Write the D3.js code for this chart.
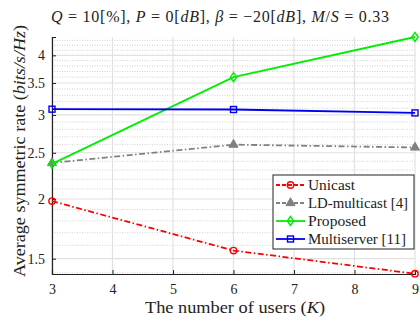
<!DOCTYPE html>
<html>
<head>
<meta charset="utf-8">
<script src="https://cdn.jsdelivr.net/npm/d3@7"></script>
<style>
  body { margin: 0; background: #fff; }
  svg { display: block; font-family: "Liberation Serif", "DejaVu Serif", serif; }
</style>
</head>
<body>
<div class="js-chart"></div>
<script>
// Chart data
const users = [3, 6, 9];
const unicast = [1.98, 1.56, 1.395];
const ldMulticast = [2.38, 2.60, 2.565];
const proposed = [2.37, 3.60, 4.37];
const multiserver = [3.085, 3.08, 3.03];

const xTicks = [3, 4, 5, 6, 7, 8, 9];
const yTicks = [1.5, 2, 2.5, 3, 3.5, 4];
const yMinor = d3.range(14, 44).map(function (v) { return v / 10; });

const seriesNames = ["Unicast", "LD-multicast [4]", "Proposed", "Multiserver [11]"];

(function () {
  "use strict";

  var width = 420, height = 320;
  var margin = { left: 52, right: 5, top: 37, bottom: 46 };
  var x0 = margin.left, x1 = width - margin.right;
  var y0 = height - margin.bottom, y1 = margin.top;

  var svg = d3.select(".js-chart").append("svg")
    .attr("width", width).attr("height", height);

  var x = d3.scaleLinear().domain([3, 9]).range([x0, x1]);
  var y = d3.scaleLog().domain([1.393, 4.37]).range([y0, y1]);

  // minor (dotted) grid
  svg.append("g").selectAll("line")
    .data(yMinor.filter(function (v) { return yTicks.indexOf(v) < 0 && v >= 1.4 && v <= 4.36; }))
    .enter().append("line")
    .attr("x1", x0).attr("x2", x1)
    .attr("y1", function (d) { return y(d); }).attr("y2", function (d) { return y(d); })
    .attr("stroke", "#c4c4c4").attr("stroke-width", 0.8)
    .attr("stroke-dasharray", "1,1.5");

  // major grid
  var grid = svg.append("g").attr("stroke", "#e1e1e1").attr("stroke-width", 1.2);
  grid.selectAll(".gy").data(yTicks).enter().append("line")
    .attr("x1", x0).attr("x2", x1)
    .attr("y1", function (d) { return y(d); }).attr("y2", function (d) { return y(d); });
  grid.selectAll(".gx").data(xTicks).enter().append("line")
    .attr("y1", y0).attr("y2", y1)
    .attr("x1", function (d) { return x(d); }).attr("x2", function (d) { return x(d); });

  // axes, ticks pointing inward
  var xAxis = svg.append("g").attr("transform", "translate(0," + y0 + ")")
    .call(d3.axisBottom(x).tickValues(xTicks).tickSize(-4).tickPadding(10).tickFormat(d3.format("d")));
  var yAxis = svg.append("g").attr("transform", "translate(" + x0 + ",0)")
    .call(d3.axisLeft(y).tickValues(yTicks).tickSize(-4).tickPadding(7).tickFormat(function (d) { return d; }));
  [xAxis, yAxis].forEach(function (a) {
    a.select(".domain").attr("stroke", "#222").attr("stroke-width", 1.2);
    a.selectAll(".tick line").attr("stroke", "#222");
    a.selectAll("text").attr("font-family", "Liberation Serif").attr("font-size", 14).attr("fill", "#222");
  });

  var series = [
    { name: seriesNames[0], values: unicast, color: "#ff0000", dash: "6,2.5,1.5,2.5", marker: "circle", len: 47 },
    { name: seriesNames[1], values: ldMulticast, color: "#808080", dash: "6,2.5,1.5,2.5", marker: "triangle", len: 100 },
    { name: seriesNames[2], values: proposed, color: "#00ee00", dash: null, marker: "diamond", len: 58 },
    { name: seriesNames[3], values: multiserver, color: "#0000ee", dash: null, marker: "square", len: 98 }
  ];

  var line = d3.line()
    .x(function (d) { return x(d[0]); })
    .y(function (d) { return y(d[1]); });

  var drawMarker = function (g, kind, cx, cy, color) {
    if (kind === "circle") {
      g.append("circle").attr("cx", cx).attr("cy", cy).attr("r", 3.2)
        .attr("fill", "none").attr("stroke", color).attr("stroke-width", 1.4);
    } else if (kind === "triangle") {
      g.append("path").attr("d", d3.symbol(d3.symbolTriangle, 36)())
        .attr("transform", "translate(" + cx + "," + cy + ")")
        .attr("fill", color).attr("stroke", color).attr("stroke-width", 1);
    } else if (kind === "diamond") {
      g.append("path").attr("d", "M0,-4.5L3.2,0L0,4.5L-3.2,0Z")
        .attr("transform", "translate(" + cx + "," + cy + ")")
        .attr("fill", "none").attr("stroke", color).attr("stroke-width", 1.4);
    } else {
      g.append("rect").attr("x", cx - 3).attr("y", cy - 3).attr("width", 6).attr("height", 6)
        .attr("fill", "none").attr("stroke", color).attr("stroke-width", 1.4);
    }
  };

  series.forEach(function (s) {
    var pts = users.map(function (u, i) { return [u, s.values[i]]; });
    var g = svg.append("g");
    g.append("path").datum(pts).attr("d", line)
      .attr("fill", "none").attr("stroke", s.color).attr("stroke-width", 1.8)
      .attr("stroke-dasharray", s.dash);
    pts.forEach(function (p) { drawMarker(g, s.marker, x(p[0]), y(p[1]), s.color); });
  });

  // legend
  var lg = svg.append("g").attr("transform", "translate(273,175)");
  lg.append("rect").attr("width", 141).attr("height", 74)
    .attr("fill", "#fff").attr("stroke", "#222").attr("stroke-width", 1);
  series.forEach(function (s, i) {
    var ly = 10 + i * 18;
    lg.append("line").attr("x1", 3).attr("x2", 32).attr("y1", ly).attr("y2", ly)
      .attr("stroke", s.color).attr("stroke-width", 1.8)
      .attr("stroke-dasharray", s.dash ? "4,2" : null);
    drawMarker(lg, s.marker, 17.5, ly, s.color);
    lg.append("text").attr("x", 35).attr("y", ly + 5)
      .attr("font-size", 15).attr("fill", "#222")
      .attr("textLength", s.len).attr("lengthAdjust", "spacingAndGlyphs").text(s.name);
  });

  // title
  var title = svg.append("text").attr("x", 220).attr("y", 22)
    .attr("text-anchor", "middle").attr("font-size", 16).attr("fill", "#222")
    .attr("textLength", 338).attr("lengthAdjust", "spacing");
  var parts = [["Q", 1], [" = 10[%], ", 0], ["P", 1], [" = 0[", 0], ["dB", 1], ["], ", 0],
    ["β", 1], [" = −20[", 0], ["dB", 1], ["], ", 0], ["M", 1], ["/", 0], ["S", 1], [" = 0.33", 0]];
  parts.forEach(function (p) {
    title.append("tspan").attr("font-style", p[1] ? "italic" : null).text(p[0]);
  });

  // axis labels
  var xl = svg.append("text").attr("x", 235).attr("y", 313)
    .attr("text-anchor", "middle").attr("font-size", 16).attr("fill", "#222")
    .attr("textLength", 180).attr("lengthAdjust", "spacingAndGlyphs");
  xl.append("tspan").text("The number of users (");
  xl.append("tspan").attr("font-style", "italic").text("K");
  xl.append("tspan").text(")");

  var yl = svg.append("text").attr("transform", "translate(25,151) rotate(-90)")
    .attr("text-anchor", "middle").attr("font-size", 16).attr("fill", "#222")
    .attr("textLength", 252).attr("lengthAdjust", "spacingAndGlyphs");
  yl.append("tspan").text("Average symmetric rate (");
  yl.append("tspan").attr("font-style", "italic").text("bits/s/Hz");
  yl.append("tspan").text(")");
})();
</script>
</body>
</html>
